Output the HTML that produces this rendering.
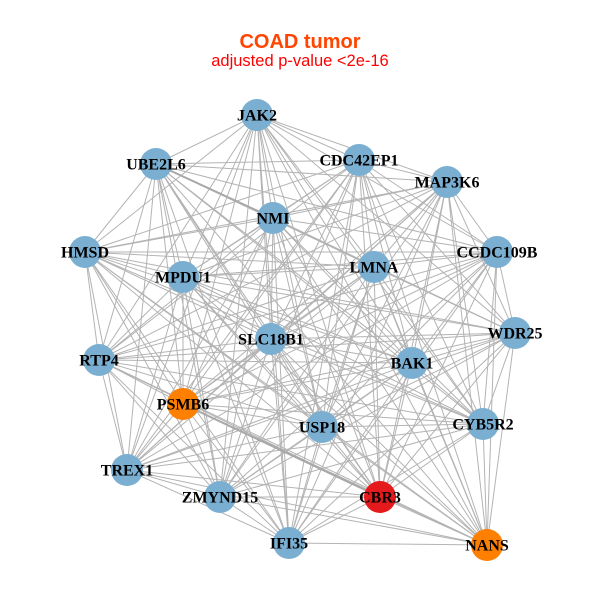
<!DOCTYPE html>
<html><head><meta charset="utf-8"><style>
html,body{margin:0;padding:0;background:#fff;}
svg{display:block;}
</style></head><body>
<svg width="600" height="600" viewBox="0 0 600 600" xmlns="http://www.w3.org/2000/svg">
<rect width="600" height="600" fill="#fff"/>
<text x="300" y="48" text-anchor="middle" font-family="Liberation Sans, sans-serif" font-weight="bold" font-size="20" fill="#FF4500">COAD tumor</text>
<text x="300" y="66" text-anchor="middle" font-family="Liberation Sans, sans-serif" font-size="16.5" fill="#FF0000">adjusted p-value &lt;2e-16</text>
<g stroke="#b3b3b3" stroke-width="1" fill="none">
<path d="M257 115L156 164M257 115L359 160M257 115L447 182M257 115L273 218M257 115L85 252M257 115L497 252M257 115L183 277M257 115L374 267M257 115L515 333M257 115L271 339M257 115L99 360M257 115L412 363M257 115L183 404M257 115L322 427M257 115L483 424M257 115L127 470M257 115L220 497M257 115L380 497M257 115L289 543M257 115L487 545"/>
<path d="M156 164L359 160M156 164L447 182M156 164L273 218M156 164L85 252M156 164L497 252M156 164L183 277M156 164L374 267M156 164L515 333M156 164L271 339M156 164L99 360M156 164L412 363M156 164L183 404M156 164L322 427M156 164L483 424M156 164L127 470M156 164L220 497M156 164L380 497M156 164L289 543M156 164L487 545"/>
<path d="M359 160L447 182M359 160L273 218M359 160L85 252M359 160L497 252M359 160L183 277M359 160L374 267M359 160L515 333M359 160L271 339M359 160L99 360M359 160L412 363M359 160L183 404M359 160L322 427M359 160L483 424M359 160L127 470M359 160L220 497M359 160L380 497M359 160L289 543M359 160L487 545"/>
<path d="M447 182L273 218M447 182L85 252M447 182L497 252M447 182L183 277M447 182L374 267M447 182L515 333M447 182L271 339M447 182L99 360M447 182L412 363M447 182L183 404M447 182L322 427M447 182L483 424M447 182L127 470M447 182L220 497M447 182L380 497M447 182L289 543M447 182L487 545"/>
<path d="M273 218L85 252M273 218L497 252M273 218L183 277M273 218L374 267M273 218L515 333M273 218L271 339M273 218L99 360M273 218L412 363M273 218L183 404M273 218L322 427M273 218L483 424M273 218L127 470M273 218L220 497M273 218L380 497M273 218L289 543M273 218L487 545"/>
<path d="M85 252L497 252M85 252L183 277M85 252L374 267M85 252L515 333M85 252L271 339M85 252L99 360M85 252L412 363M85 252L183 404M85 252L322 427M85 252L483 424M85 252L127 470M85 252L220 497M85 252L380 497M85 252L289 543M85 252L487 545"/>
<path d="M497 252L183 277M497 252L374 267M497 252L515 333M497 252L271 339M497 252L99 360M497 252L412 363M497 252L183 404M497 252L322 427M497 252L483 424M497 252L127 470M497 252L220 497M497 252L380 497M497 252L289 543M497 252L487 545"/>
<path d="M183 277L374 267M183 277L515 333M183 277L271 339M183 277L99 360M183 277L412 363M183 277L183 404M183 277L322 427M183 277L483 424M183 277L127 470M183 277L220 497M183 277L380 497M183 277L289 543M183 277L487 545"/>
<path d="M374 267L515 333M374 267L271 339M374 267L99 360M374 267L412 363M374 267L183 404M374 267L322 427M374 267L483 424M374 267L127 470M374 267L220 497M374 267L380 497M374 267L289 543M374 267L487 545"/>
<path d="M515 333L271 339M515 333L99 360M515 333L412 363M515 333L183 404M515 333L322 427M515 333L483 424M515 333L127 470M515 333L220 497M515 333L380 497M515 333L289 543M515 333L487 545"/>
<path d="M271 339L99 360M271 339L412 363M271 339L183 404M271 339L322 427M271 339L483 424M271 339L127 470M271 339L220 497M271 339L380 497M271 339L289 543M271 339L487 545"/>
<path d="M99 360L412 363M99 360L183 404M99 360L322 427M99 360L483 424M99 360L127 470M99 360L220 497M99 360L380 497M99 360L289 543M99 360L487 545"/>
<path d="M412 363L183 404M412 363L322 427M412 363L483 424M412 363L127 470M412 363L220 497M412 363L380 497M412 363L289 543M412 363L487 545"/>
<path d="M183 404L322 427M183 404L483 424M183 404L127 470M183 404L220 497M183 404L380 497M183 404L289 543M183 404L487 545"/>
<path d="M322 427L483 424M322 427L127 470M322 427L220 497M322 427L380 497M322 427L289 543M322 427L487 545"/>
<path d="M483 424L127 470M483 424L220 497M483 424L380 497M483 424L289 543M483 424L487 545"/>
<path d="M127 470L220 497M127 470L380 497M127 470L289 543M127 470L487 545"/>
<path d="M220 497L380 497M220 497L289 543M220 497L487 545"/>
<path d="M380 497L289 543M380 497L487 545"/>
<path d="M289 543L487 545"/>
</g>
<g stroke="#a8a8a8" stroke-width="2" fill="none">
<path d="M183 404L380 497M156 164L273 218"/>
</g>
<g>
<circle cx="257" cy="115" r="16" fill="#7BAFD2"/>
<circle cx="156" cy="164" r="16" fill="#7BAFD2"/>
<circle cx="359" cy="160" r="16" fill="#7BAFD2"/>
<circle cx="447" cy="182" r="16" fill="#7BAFD2"/>
<circle cx="273" cy="218" r="16" fill="#7BAFD2"/>
<circle cx="85" cy="252" r="16" fill="#7BAFD2"/>
<circle cx="497" cy="252" r="16" fill="#7BAFD2"/>
<circle cx="183" cy="277" r="16" fill="#7BAFD2"/>
<circle cx="374" cy="267" r="16" fill="#7BAFD2"/>
<circle cx="515" cy="333" r="16" fill="#7BAFD2"/>
<circle cx="271" cy="339" r="16" fill="#7BAFD2"/>
<circle cx="99" cy="360" r="16" fill="#7BAFD2"/>
<circle cx="412" cy="363" r="16" fill="#7BAFD2"/>
<circle cx="183" cy="404" r="16" fill="#FF7F00"/>
<circle cx="322" cy="427" r="16" fill="#7BAFD2"/>
<circle cx="483" cy="424" r="16" fill="#7BAFD2"/>
<circle cx="127" cy="470" r="16" fill="#7BAFD2"/>
<circle cx="220" cy="497" r="16" fill="#7BAFD2"/>
<circle cx="380" cy="497" r="16" fill="#E41A1C"/>
<circle cx="289" cy="543" r="16" fill="#7BAFD2"/>
<circle cx="487" cy="545" r="16" fill="#FF7F00"/>
</g>
<g font-family="Liberation Serif, serif" font-weight="bold" font-size="16" fill="#000" text-anchor="middle">
<text x="257" y="120.5">JAK2</text>
<text x="156" y="169.5">UBE2L6</text>
<text x="359" y="165.5">CDC42EP1</text>
<text x="447" y="187.5">MAP3K6</text>
<text x="273" y="223.5">NMI</text>
<text x="85" y="257.5">HMSD</text>
<text x="497" y="257.5">CCDC109B</text>
<text x="183" y="282.5">MPDU1</text>
<text x="374" y="272.5">LMNA</text>
<text x="515" y="338.5">WDR25</text>
<text x="271" y="344.5">SLC18B1</text>
<text x="99" y="365.5">RTP4</text>
<text x="412" y="368.5">BAK1</text>
<text x="183" y="409.5">PSMB6</text>
<text x="322" y="432.5">USP18</text>
<text x="483" y="429.5">CYB5R2</text>
<text x="127" y="475.5">TREX1</text>
<text x="220" y="502.5">ZMYND15</text>
<text x="380" y="502.5">CBR3</text>
<text x="289" y="548.5">IFI35</text>
<text x="487" y="550.5">NANS</text>
</g>
</svg>
</body></html>
